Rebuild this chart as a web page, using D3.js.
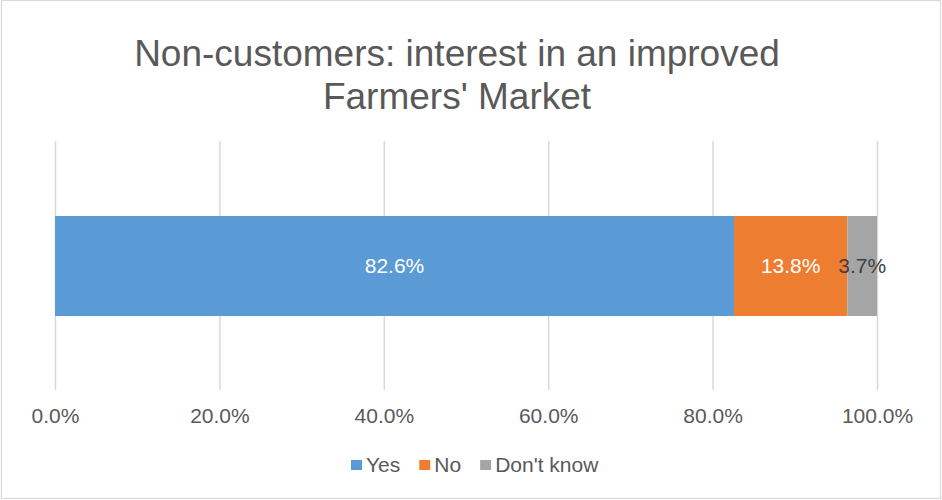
<!DOCTYPE html>
<html>
<head>
<meta charset="utf-8">
<script src="https://cdn.jsdelivr.net/npm/d3@7"></script>
<style>
  html, body { margin: 0; padding: 0; background: #fff; }
  svg { display: block; font-family: "Liberation Sans", Arial, sans-serif; }
</style>
</head>
<body>
<svg id="chart" width="942" height="500"></svg>
<script>
const titleLines = ["Non-customers: interest in an improved", "Farmers' Market"];
const categories = ["Yes", "No", "Don't know"];
const values = [82.6, 13.8, 3.7];
const colors = ["#5b9bd5", "#ed7d31", "#a5a5a5"];
const labelColors = ["#ffffff", "#ffffff", "#404040"];
const tickValues = [0, 20, 40, 60, 80, 100];

const svg = d3.select("#chart");
const W = 942, H = 500;

// outer frame
svg.append("rect")
  .attr("x", 1.5).attr("y", 0.5)
  .attr("width", W - 3).attr("height", H - 2)
  .attr("fill", "#fff").attr("stroke", "#d9d9d9").attr("stroke-width", 1.2);

// title
const title = svg.append("text")
  .attr("text-anchor", "middle")
  .attr("fill", "#595959")
  .attr("font-size", 37);
titleLines.forEach((t, i) => {
  title.append("tspan").attr("x", 457).attr("y", 66 + i * 43).text(t);
});

const x = d3.scaleLinear().domain([0, 100]).range([55, 877]);
const plotTop = 141, plotBottom = 390;

// vertical gridlines
svg.append("g").selectAll("line")
  .data(tickValues).join("line")
  .attr("x1", d => x(d) + 0.5).attr("x2", d => x(d) + 0.5)
  .attr("y1", plotTop).attr("y2", plotBottom)
  .attr("stroke", "#d9d9d9").attr("stroke-width", 1.5);

// axis tick labels
const axis = d3.axisBottom(x).tickValues(tickValues)
  .tickFormat(d => d.toFixed(1) + "%").tickSize(0).tickPadding(0);
const axisG = svg.append("g").attr("transform", `translate(0,${plotBottom})`).call(axis);
axisG.select(".domain").remove();
axisG.selectAll("text")
  .attr("y", 33).attr("dy", null)
  .attr("fill", "#595959").attr("font-size", 21)
  .attr("font-family", "Liberation Sans, Arial, sans-serif");

// stacked segments
let acc = 0;
const segs = values.map((v, i) => {
  const s = { cat: categories[i], v, x0: acc, x1: acc + v, color: colors[i], lc: labelColors[i] };
  acc += v;
  return s;
});
const barY = 216, barH = 100;

svg.append("g").selectAll("rect")
  .data(segs).join("rect")
  .attr("x", d => x(d.x0))
  .attr("width", d => x(Math.min(d.x1, 100)) - x(d.x0))
  .attr("y", barY).attr("height", barH)
  .attr("fill", d => d.color);

svg.append("g").selectAll("text")
  .data(segs).join("text")
  .attr("x", d => x((d.x0 + Math.min(d.x1, 100)) / 2))
  .attr("y", barY + barH / 2)
  .attr("dy", "0.35em")
  .attr("text-anchor", "middle")
  .attr("font-size", 21)
  .attr("fill", d => d.lc)
  .text(d => d.v.toFixed(1) + "%");

// legend
const legendItems = categories.map((c, i) => ({ c, color: colors[i] }));
const legend = svg.append("g");
let lx = 0;
const itemsG = legend.selectAll("g").data(legendItems).join("g");
itemsG.append("rect").attr("width", 11).attr("height", 10).attr("y", -12).attr("fill", d => d.color);
itemsG.append("text").attr("x", 15).attr("y", 0)
  .attr("font-size", 21).attr("fill", "#595959")
  .text(d => d.c);
itemsG.each(function() {
  const w = this.getBBox().width;
  d3.select(this).attr("transform", `translate(${lx},0)`);
  lx += w + 19;
});
legend.attr("transform", `translate(${351},${472})`);
</script>
</body>
</html>
